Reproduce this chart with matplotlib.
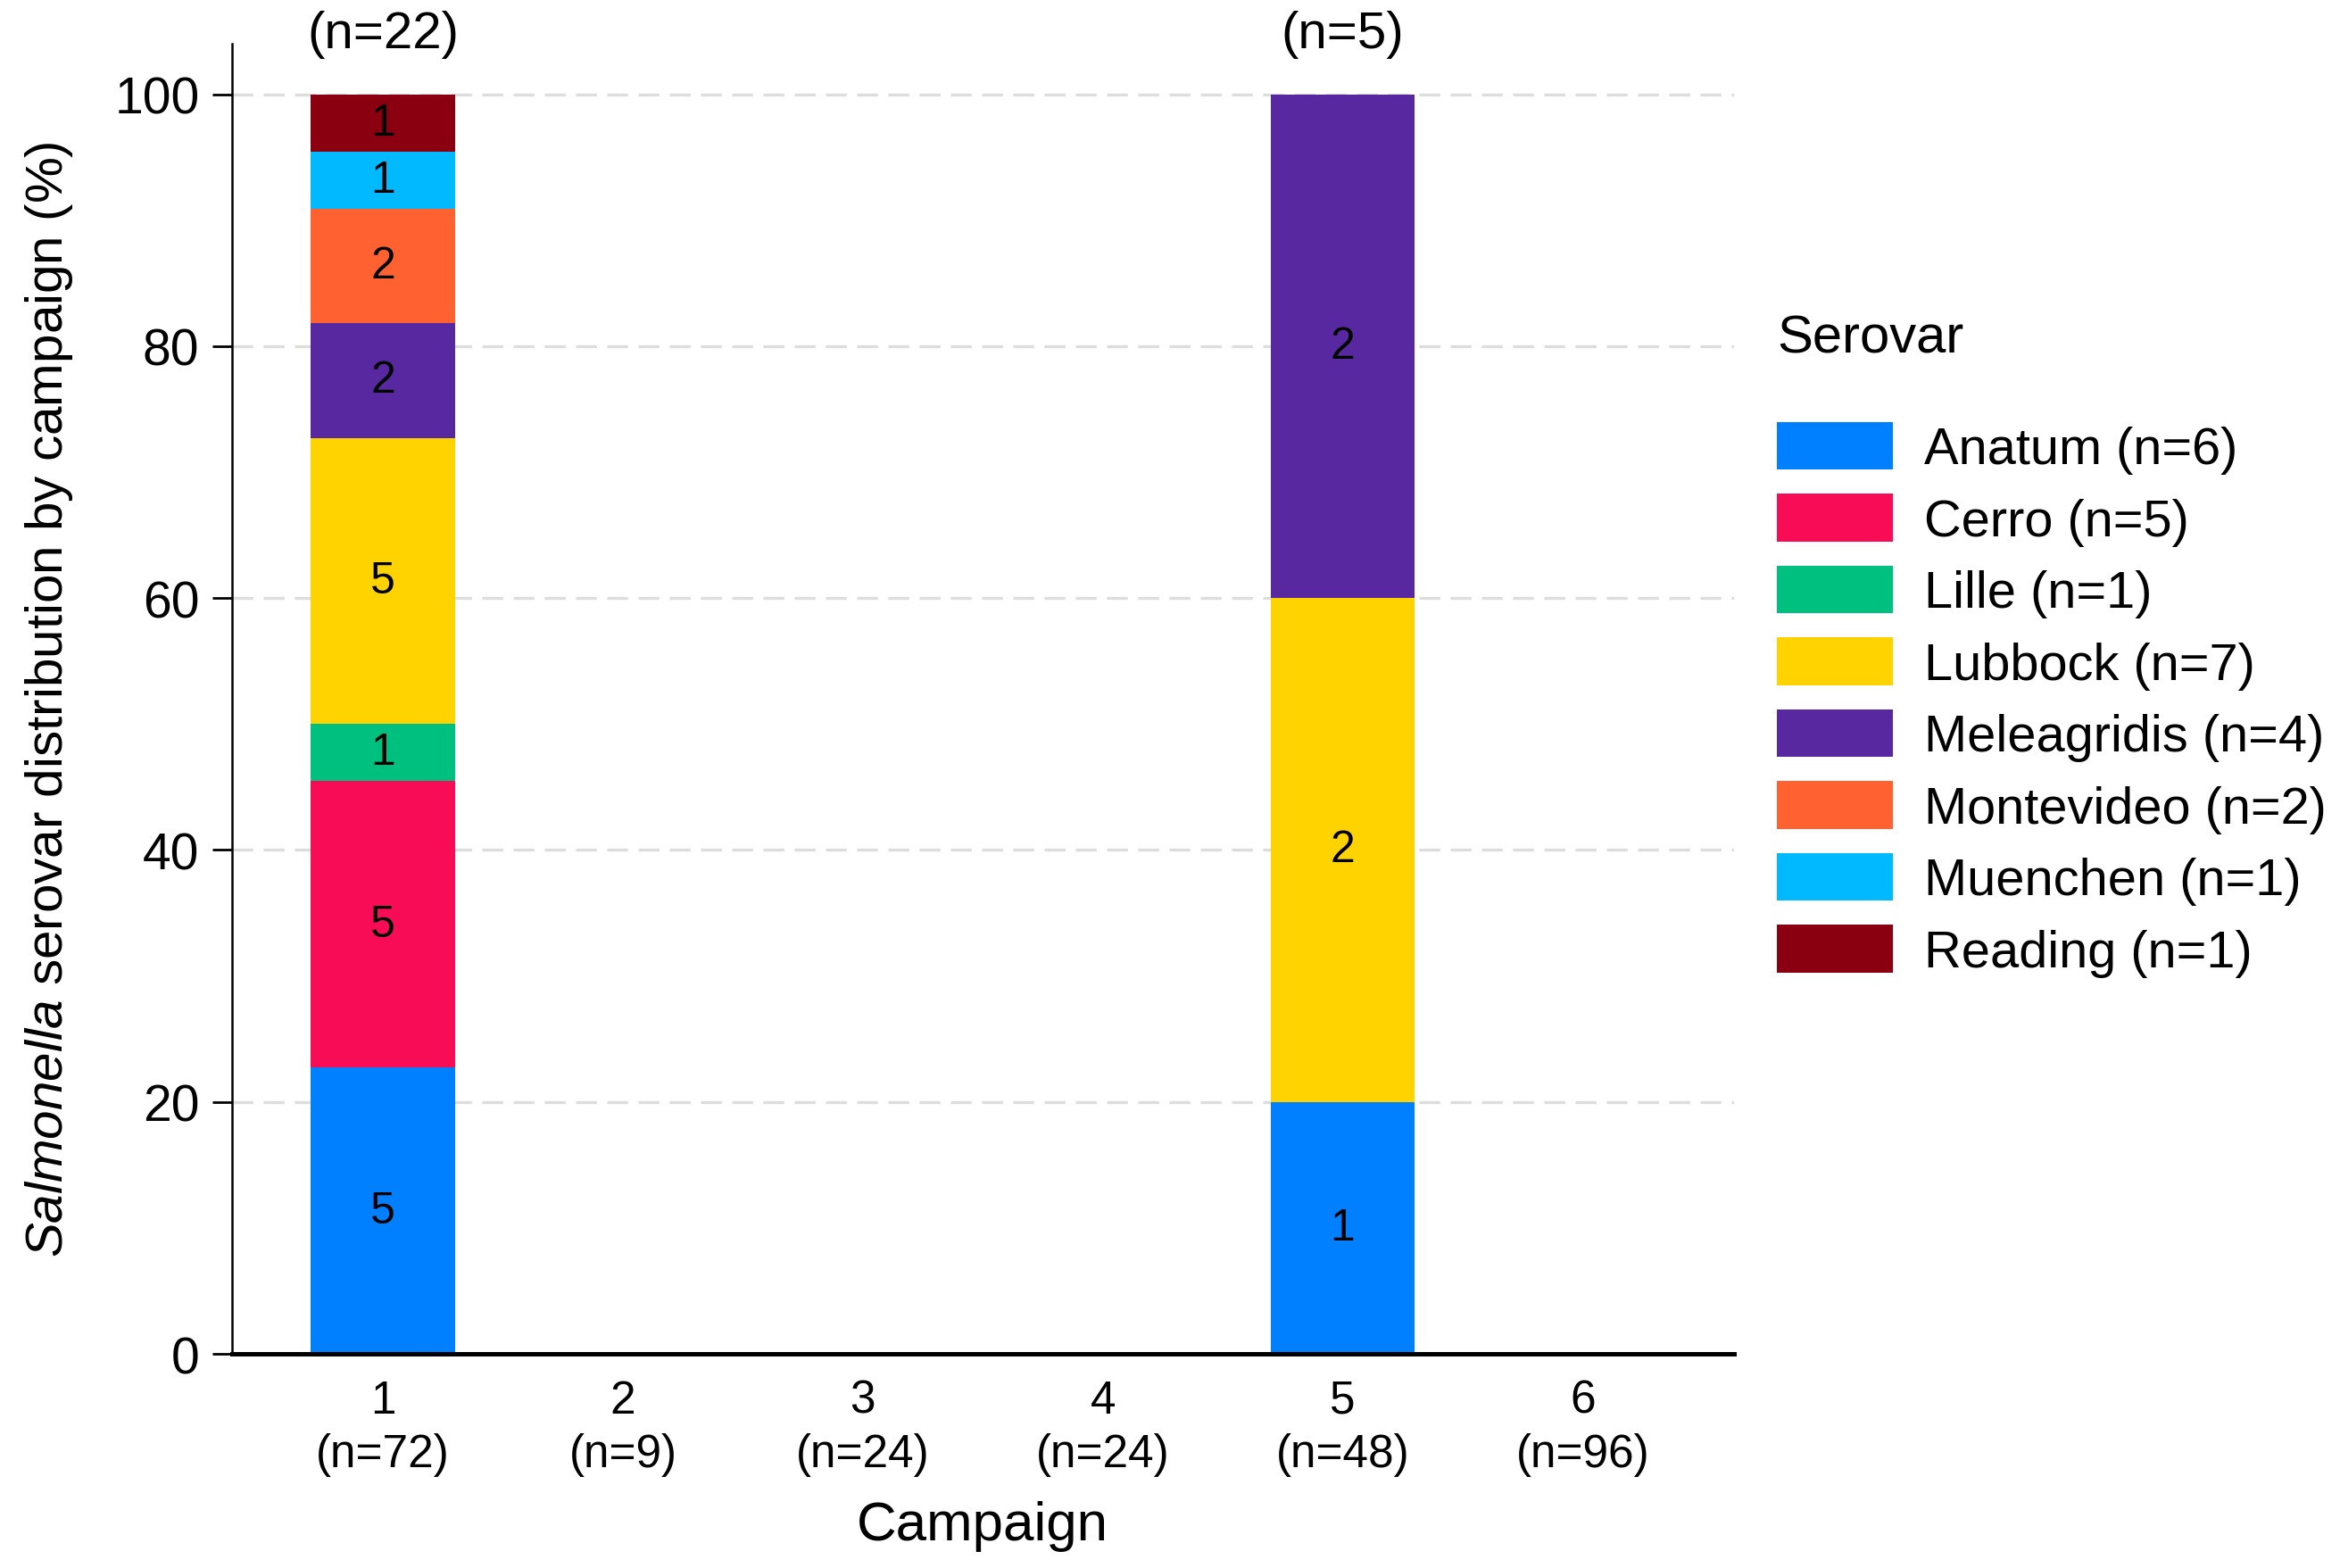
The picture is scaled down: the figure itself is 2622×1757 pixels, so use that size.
import numpy as np
import matplotlib
matplotlib.use("Agg")
import matplotlib.pyplot as plt

plt.rcParams['font.family'] = ['Liberation Sans', 'DejaVu Sans']
plt.rcParams['mathtext.fontset'] = 'custom'
plt.rcParams['mathtext.it'] = 'Liberation Sans:italic'
plt.rcParams['mathtext.rm'] = 'Liberation Sans'

# data
campaigns = [1, 2, 3, 4, 5, 6]
campaign_n = [72, 9, 24, 24, 48, 96]
serovars = ["Anatum", "Cerro", "Lille", "Lubbock", "Meleagridis",
            "Montevideo", "Muenchen", "Reading"]
# positive counts per campaign, one list per serovar
anatum = [5, 0, 0, 0, 1, 0]
cerro = [5, 0, 0, 0, 0, 0]
lille = [1, 0, 0, 0, 0, 0]
lubbock = [5, 0, 0, 0, 2, 0]
meleagridis = [2, 0, 0, 0, 2, 0]
montevideo = [2, 0, 0, 0, 0, 0]
muenchen = [1, 0, 0, 0, 0, 0]
reading = [1, 0, 0, 0, 0, 0]

colors = ["#0080FF", "#F80C56", "#00C07F", "#FFD300",
          "#5828A0", "#FF6130", "#00B9FF", "#8B0010"]

counts = np.array([anatum, cerro, lille, lubbock, meleagridis,
                   montevideo, muenchen, reading], dtype=float)
totals = counts.sum(axis=0)
safe = np.where(totals > 0, totals, 1)
pct = counts / safe * 100

fig = plt.figure(figsize=(13.11, 8.79), dpi=200)
ax = fig.add_axes([0.099, 0.1365, 0.642, 0.835])

x = np.array(campaigns)
bottom = np.zeros(len(campaigns))
for i, name in enumerate(serovars):
    label = f"{name} (n={int(counts[i].sum())})"
    ax.bar(x, pct[i], width=0.6, bottom=bottom, color=colors[i],
           label=label, zorder=3)
    for j in range(len(campaigns)):
        if counts[i, j] > 0:
            ax.text(x[j], bottom[j] + pct[i, j] / 2, f"{int(counts[i, j])}",
                    ha='center', va='center', fontsize=18, zorder=4)
    bottom += pct[i]

for j in range(len(campaigns)):
    if totals[j] > 0:
        ax.text(x[j], 104.8, f"(n={int(totals[j])})", ha='center', va='center',
                fontsize=21, clip_on=False)

ax.set_xlim(0.37, 6.63)
ax.set_ylim(0, 104)
ax.set_yticks([0, 20, 40, 60, 80, 100])
ax.set_xticks(x)
ax.set_xticklabels([f"{c}\n(n={n})" for c, n in zip(campaigns, campaign_n)],
                   fontsize=18.5, linespacing=1.3)
ax.tick_params(axis='x', length=0, pad=10)
ax.tick_params(axis='y', length=8, width=1, pad=5, labelsize=20.5)

for y in [20, 40, 60, 80, 100]:
    ax.axhline(y, color='#DDDDDD', lw=1.2, ls=(0, (7, 3.5)), zorder=1)

ax.spines['top'].set_visible(False)
ax.spines['right'].set_visible(False)
ax.spines['left'].set_linewidth(0.9)
ax.spines['bottom'].set_linewidth(1.8)
ax.spines['bottom'].set_zorder(5)

ax.set_xlabel("Campaign", fontsize=22.3, labelpad=9.5)
ax.set_ylabel(r"$\it{Salmonella}$ serovar distribution by campaign (%)",
              fontsize=21, labelpad=16)

leg = ax.legend(loc='upper left', bbox_to_anchor=(1.015, 0.81), frameon=False,
                fontsize=20.8, title="Serovar", title_fontsize=21.5,
                handlelength=2.25, handleheight=1.05, labelspacing=0.38,
                handletextpad=0.6, alignment='left', borderaxespad=0)
leg._legend_box.sep = 24

fig.savefig("out.png", dpi=200)
